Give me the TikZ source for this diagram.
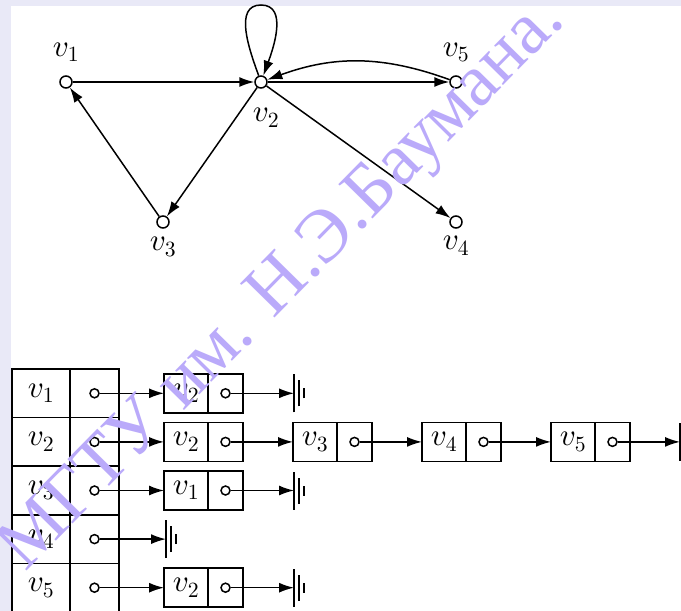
\documentclass[tikz,border=0pt]{standalone}
\usepackage{fontspec}
\usepackage{xcolor}
\usepackage{tikz}
\usetikzlibrary{arrows.meta,positioning}
\DeclareFontShape{OML}{cmm}{m}{it}{<-8> cmmi7 <8-> cmmi10}{}
\DeclareFontShape{OT1}{cmr}{m}{n}{<-8> cmr7 <8-> cmr10}{}
\newfontfamily\wmfont{Liberation Serif}
\definecolor{wmcol}{RGB}{186,170,250}
\definecolor{bgcol}{RGB}{233,233,247}
\tikzset{
  gnd/.pic={\draw (0,-19) -- (0,19) (5,-13) -- (5,13) (10,-5) -- (10,5);}
}

\begin{document}
\begin{tikzpicture}[
  x=1pt, y=1pt,
  line width=1.5pt,
  font=\fontsize{31}{37}\selectfont,
  node distance=50pt,
  vert/.style={circle, draw, fill=white, inner sep=0pt, minimum size=12pt},
  lbl/.style={inner sep=0pt},
  arr/.style={-{Latex[length=15pt, width=10pt]}},
  tcell/.style={draw, inner sep=0pt, outer sep=0pt, minimum height=48.6pt, line width=1.6pt},
  vcell/.style={draw, inner sep=0pt, outer sep=0pt, minimum width=44pt, minimum height=39pt},
  pcell/.style={draw, inner sep=0pt, outer sep=0pt, minimum width=35pt, minimum height=39pt},
  dot/.style={circle, draw, fill=white, inner sep=0pt, minimum size=9pt},
  wmark/.style={text=wmcol, inner sep=0pt, font=\wmfont\fontsize{74}{80}\selectfont}
]
\useasboundingbox (0,0) rectangle (681,-611);
\fill[bgcol] (0,0) rectangle (681,-611);
\fill[white] (11,-6) rectangle (681,-611);

% graph
\node[vert, label={[lbl, label distance=13pt]above:$v_1$}] (v1) at (66,-82) {};
\node[vert, label={[lbl, label distance=19pt, xshift=5pt]below:$v_2$}] (v2) at (261,-82) {};
\node[vert, label={[lbl, label distance=8pt]below:$v_3$}] (v3) at (163,-222) {};
\node[vert, label={[lbl, label distance=7pt]below:$v_4$}] (v4) at (456,-222) {};
\node[vert, label={[lbl, label distance=13pt]above:$v_5$}] (v5) at (456,-82) {};
\coordinate (lp) at (261,-5);
\draw[arr] (v1) -- (v2);
\draw[arr] (v2) -- (v5);
\draw[arr] (v5) to[bend right=20] (v2);
\draw[arr] (v2) to[out=110, in=180] (lp) to[out=0, in=70] (v2);
\draw[arr] (v2) -- (v3);
\draw[arr] (v3) -- (v1);
\draw[arr] (v2) -- (v4);

% table of heads
\node[tcell, minimum width=58pt] (h1) at (41,-393.3) {$v_1$};
\node[tcell, minimum width=58pt, below=0pt of h1] (h2) {$v_2$};
\node[tcell, minimum width=58pt, below=0pt of h2] (h3) {$v_3$};
\node[tcell, minimum width=58pt, below=0pt of h3] (h4) {$v_4$};
\node[tcell, minimum width=58pt, below=0pt of h4] (h5) {$v_5$};
\node[tcell, minimum width=49pt, right=0pt of h1] (p1) {};
\node[tcell, minimum width=49pt, right=0pt of h2] (p2) {};
\node[tcell, minimum width=49pt, right=0pt of h3] (p3) {};
\node[tcell, minimum width=49pt, right=0pt of h4] (p4) {};
\node[tcell, minimum width=49pt, right=0pt of h5] (p5) {};
\node[dot] (d1) at (p1) {};
\node[dot] (d2) at (p2) {};
\node[dot] (d3) at (p3) {};
\node[dot] (d4) at (p4) {};
\node[dot] (d5) at (p5) {};

% row 1
\node[vcell, right=45pt of p1] (n11) {$v_2$};
\node[pcell, right=0pt of n11] (n11p) {};
\node[dot] (n11d) at (n11p) {};
\coordinate[right=51pt of n11p] (g1);
\pic at (g1) {gnd};
\draw[arr] (d1) -- (n11);
\draw[arr] (n11d) -- (g1);

% row 2
\node[vcell, right=45pt of p2] (n21) {$v_2$};
\node[pcell, right=0pt of n21] (n21p) {};
\node[dot] (n21d) at (n21p) {};
\node[vcell, right=of n21p] (n22) {$v_3$};
\node[pcell, right=0pt of n22] (n22p) {};
\node[dot] (n22d) at (n22p) {};
\node[vcell, right=of n22p] (n23) {$v_4$};
\node[pcell, right=0pt of n23] (n23p) {};
\node[dot] (n23d) at (n23p) {};
\node[vcell, right=of n23p] (n24) {$v_5$};
\node[pcell, right=0pt of n24] (n24p) {};
\node[dot] (n24d) at (n24p) {};
\coordinate[right=of n24p] (g2);
\pic at (g2) {gnd};
\draw[arr] (d2) -- (n21);
\draw[arr] (n21d) -- (n22);
\draw[arr] (n22d) -- (n23);
\draw[arr] (n23d) -- (n24);
\draw[arr] (n24d) -- (g2);

% row 3
\node[vcell, right=45pt of p3] (n31) {$v_1$};
\node[pcell, right=0pt of n31] (n31p) {};
\node[dot] (n31d) at (n31p) {};
\coordinate[right=51pt of n31p] (g3);
\pic at (g3) {gnd};
\draw[arr] (d3) -- (n31);
\draw[arr] (n31d) -- (g3);

% row 4
\coordinate[right=47pt of p4] (g4);
\pic at (g4) {gnd};
\draw[arr] (d4) -- (g4);

% row 5
\node[vcell, right=45pt of p5] (n51) {$v_2$};
\node[pcell, right=0pt of n51] (n51p) {};
\node[dot] (n51d) at (n51p) {};
\coordinate[right=51pt of n51p] (g5);
\pic at (g5) {gnd};
\draw[arr] (d5) -- (n51);
\draw[arr] (n51d) -- (g5);

% watermark
\node[wmark, rotate=45.5, anchor=base] (wm) at (296,-297) {МГТУ им. Н.Э.Баумана.};
\end{tikzpicture}
\end{document}
